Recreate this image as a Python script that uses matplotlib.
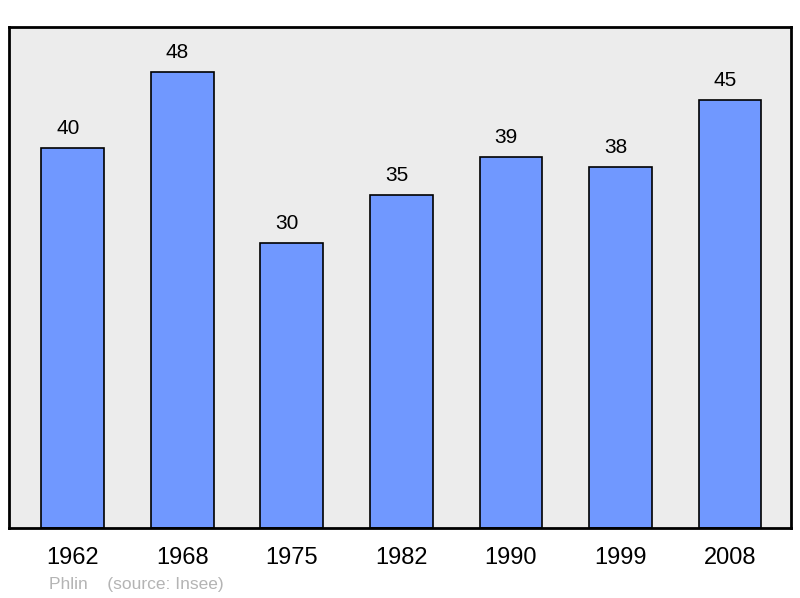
import matplotlib
matplotlib.use("Agg")
from matplotlib import pyplot as plt

years = ["1962", "1968", "1975", "1982", "1990", "1999", "2008"]
population = [40, 48, 30, 35, 39, 38, 45]

plt.rcParams['font.family'] = ['Liberation Sans', 'DejaVu Sans']

fig = plt.figure(figsize=(8, 5.98), dpi=100)
ax = fig.add_axes([9 / 800, 70 / 598, 782 / 800, 501 / 598])
ax.set_facecolor("#ececec")

x = range(len(years))
ax.bar(x, population, width=0.575, color="#7098ff", edgecolor="black", linewidth=1.2)
for i, v in enumerate(population):
    ax.annotate(str(v), (i, v), xytext=(-3.6, 14), textcoords="offset points",
                ha="center", va="center", fontsize=15)

ax.set_xlim(-0.584, 6.557)
ax.set_ylim(0, 52.7)
ax.set_yticks([])
ax.set_xticks(list(x))
ax.set_xticklabels(years, fontsize=17)
ax.tick_params(axis="x", length=0, pad=13.5)
for s in ax.spines.values():
    s.set_linewidth(2)

fig.text(49 / 800, 1 - 584 / 598, "Phlin    (source: Insee)", fontsize=12.5,
         color="#b4b4b4", va="center", ha="left")

fig.savefig("out.png", dpi=100)
